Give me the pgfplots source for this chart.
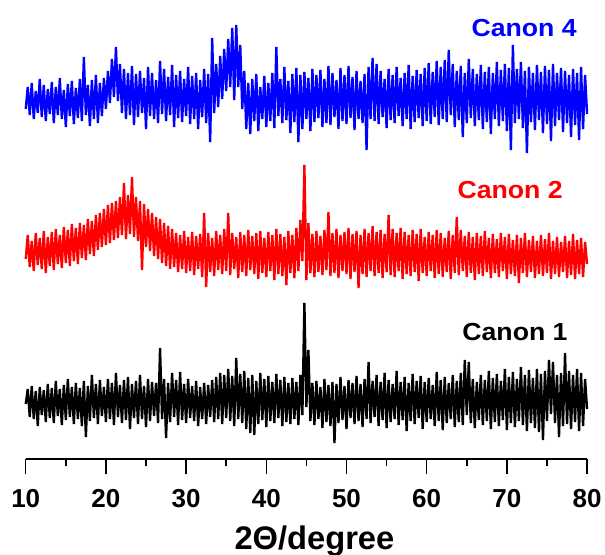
\documentclass[border=0pt]{standalone}
\usepackage{fontspec}
\setmainfont{Liberation Sans}
\usepackage{pgfplots}
\pgfplotsset{compat=1.18}
\begin{document}
\begin{tikzpicture}
\useasboundingbox (0,0) rectangle (453.75pt,416.25pt);
\begin{axis}[
  at={(19.3pt,72pt)}, anchor=south west,
  scale only axis, width=421pt, height=344.25pt,
  xmin=10, xmax=80, ymin=0, ymax=459,
  axis x line*=bottom, axis y line=none,
  clip=false,
  xtick={10,20,...,80}, minor x tick num=1,
  tick align=outside, xtick pos=bottom,
  major tick length=11.5pt, minor tick length=5.5pt,
  every tick/.style={black, line width=1.1pt},
  axis line style={black, line width=1.3pt},
  /pgf/number format/assume math mode=true,
  xticklabel style={font=\fontsize{19.5}{21}\selectfont\bfseries, yshift=-8pt},
  xlabel={2Θ/degree},
  xlabel style={font=\fontsize{24.5}{27}\selectfont\bfseries, yshift=-6.5pt, xshift=6pt},
  every axis plot/.append style={sharp plot, line width=1.75pt, line join=bevel},
]
% Canon 1 (black)
\addplot[black] coordinates {
(10.00,55)(10.25,70)(10.50,42)(10.75,73)(11.00,40)(11.25,68)(11.50,33)(11.75,72)(12.00,44)(12.25,69)(12.50,37)(12.75,75)
(13.00,41)(13.25,71)(13.50,36)(13.75,78)(14.00,43)(14.25,70)(14.50,34)(14.75,74)(15.00,39)(15.25,80)(15.50,42)(15.75,72)
(16.00,35)(16.25,76)(16.50,40)(16.75,71)(17.00,33)(17.25,78)(17.50,22)(17.75,73)(18.00,38)(18.25,84)(18.50,41)(18.75,75)
(19.00,35)(19.25,79)(19.50,43)(19.75,72)(20.00,37)(20.25,80)(20.50,40)(20.75,76)(21.00,34)(21.25,86)(21.50,42)(21.75,74)
(22.00,36)(22.25,79)(22.50,39)(22.75,82)(23.00,30)(23.25,75)(23.50,41)(23.75,78)(24.00,35)(24.25,84)(24.50,40)(24.75,73)
(25.00,32)(25.25,80)(25.50,38)(25.75,77)(26.00,43)(26.25,76)(26.50,36)(26.75,111)(27.00,40)(27.25,80)(27.50,21)(27.75,76)
(28.00,37)(28.25,86)(28.50,42)(28.75,79)(29.00,34)(29.25,87)(29.50,39)(29.75,75)(30.00,36)(30.25,80)(30.50,41)(30.75,73)
(31.00,38)(31.25,78)(31.50,33)(31.75,72)(32.00,40)(32.25,76)(32.50,35)(32.75,74)(33.00,42)(33.25,79)(33.50,37)(33.75,82)
(34.00,40)(34.25,86)(34.50,35)(34.75,84)(35.00,41)(35.25,90)(35.50,38)(35.75,83)(36.00,33)(36.25,101)(36.50,40)(36.75,85)
(37.00,36)(37.25,88)(37.50,30)(37.75,81)(38.00,26)(38.25,84)(38.50,24)(38.75,78)(39.00,35)(39.25,86)(39.50,39)(39.75,80)
(40.00,32)(40.25,83)(40.50,38)(40.75,77)(41.00,36)(41.25,85)(41.50,41)(41.75,79)(42.00,33)(42.25,82)(42.50,37)(42.75,76)
(43.00,35)(43.25,81)(43.50,40)(43.75,77)(44.00,34)(44.25,84)(44.50,44)(44.75,156)(45.00,52)(45.25,109)(45.50,38)(45.75,76)
(46.00,34)(46.25,78)(46.50,40)(46.75,72)(47.00,31)(47.25,80)(47.50,37)(47.75,74)(48.00,33)(48.25,77)(48.50,16)(48.75,75)
(49.00,36)(49.25,82)(49.50,39)(49.75,73)(50.00,30)(50.25,79)(50.50,41)(50.75,76)(51.00,35)(51.25,83)(51.50,38)(51.75,75)
(52.00,32)(52.25,80)(52.50,40)(52.75,97)(53.00,36)(53.25,78)(53.50,42)(53.75,84)(54.00,33)(54.25,77)(54.50,39)(54.75,86)
(55.00,31)(55.25,79)(55.50,37)(55.75,75)(56.00,40)(56.25,88)(56.50,34)(56.75,77)(57.00,39)(57.25,82)(57.50,28)(57.75,76)
(58.00,38)(58.25,85)(58.50,35)(58.75,78)(59.00,41)(59.25,83)(59.50,30)(59.75,77)(60.00,37)(60.25,81)(60.50,40)(60.75,74)
(61.00,33)(61.25,87)(61.50,38)(61.75,79)(62.00,29)(62.25,82)(62.50,36)(62.75,76)(63.00,40)(63.25,84)(63.50,32)(63.75,78)
(64.00,37)(64.25,86)(64.50,34)(64.75,99)(65.00,44)(65.25,97)(65.50,36)(65.75,80)(66.00,31)(66.25,77)(66.50,39)(66.75,84)
(67.00,34)(67.25,79)(67.50,38)(67.75,88)(68.00,30)(68.25,81)(68.50,37)(68.75,85)(69.00,33)(69.25,78)(69.50,39)(69.75,90)
(70.00,29)(70.25,82)(70.50,36)(70.75,87)(71.00,32)(71.25,80)(71.50,38)(71.75,92)(72.00,34)(72.25,84)(72.50,28)(72.75,89)
(73.00,36)(73.25,81)(73.50,31)(73.75,90)(74.00,27)(74.25,85)(74.50,19)(74.75,88)(75.00,38)(75.25,99)(75.50,45)(75.75,97)
(76.00,36)(76.25,84)(76.50,22)(76.75,86)(77.00,33)(77.25,106)(77.50,35)(77.75,88)(78.00,30)(78.25,84)(78.50,37)(78.75,90)
(79.00,28)(79.25,86)(79.50,33)(79.75,80)(80.00,50)
};
% Canon 2 (red)
\addplot[red] coordinates {
(10.00,200)(10.25,224)(10.50,192)(10.75,218)(11.00,188)(11.25,226)(11.50,194)(11.75,221)(12.00,190)(12.25,228)(12.50,186)(12.75,222)
(13.00,193)(13.25,227)(13.50,189)(13.75,230)(14.00,195)(14.25,224)(14.50,191)(14.75,232)(15.00,196)(15.25,229)(15.50,193)(15.75,235)
(16.00,198)(16.25,231)(16.50,195)(16.75,236)(17.00,201)(17.25,234)(17.50,199)(17.75,240)(18.00,205)(18.25,238)(18.50,203)(18.75,244)
(19.00,209)(19.25,246)(19.50,212)(19.75,250)(20.00,214)(20.25,254)(20.50,216)(20.75,256)(21.00,219)(21.25,258)(21.50,221)(21.75,262)
(22.00,224)(22.25,276)(22.50,220)(22.75,264)(23.00,225)(23.25,282)(23.50,222)(23.75,262)(24.00,218)(24.25,258)(24.50,189)(24.75,255)
(25.00,212)(25.25,250)(25.50,208)(25.75,246)(26.00,203)(26.25,242)(26.50,200)(26.75,240)(27.00,196)(27.25,236)(27.50,193)(27.75,233)
(28.00,190)(28.25,230)(28.50,192)(28.75,226)(29.00,187)(29.25,224)(29.50,190)(29.75,228)(30.00,186)(30.25,222)(30.50,188)(30.75,227)
(31.00,184)(31.25,223)(31.50,190)(31.75,225)(32.00,182)(32.25,246)(32.50,172)(32.75,226)(33.00,187)(33.25,221)(33.50,183)(33.75,228)
(34.00,189)(34.25,224)(34.50,185)(34.75,230)(35.00,188)(35.25,246)(35.50,184)(35.75,226)(36.00,190)(36.25,222)(36.50,181)(36.75,227)
(37.00,187)(37.25,224)(37.50,183)(37.75,229)(38.00,189)(38.25,223)(38.50,185)(38.75,226)(39.00,180)(39.25,228)(39.50,186)(39.75,221)
(40.00,182)(40.25,227)(40.50,188)(40.75,224)(41.00,179)(41.25,230)(41.50,185)(41.75,225)(42.00,183)(42.25,222)(42.50,174)(42.75,228)
(43.00,186)(43.25,224)(43.50,181)(43.75,231)(44.00,188)(44.25,239)(44.50,198)(44.75,294)(45.00,179)(45.25,236)(45.50,186)(45.75,225)
(46.00,182)(46.25,228)(46.50,187)(46.75,223)(47.00,184)(47.25,229)(47.50,189)(47.75,247)(48.00,183)(48.25,226)(48.50,186)(48.75,230)
(49.00,181)(49.25,224)(49.50,188)(49.75,227)(50.00,185)(50.25,231)(50.50,180)(50.75,225)(51.00,187)(51.25,228)(51.50,171)(51.75,224)
(52.00,185)(52.25,230)(52.50,182)(52.75,226)(53.00,188)(53.25,233)(53.50,183)(53.75,227)(54.00,186)(54.25,229)(54.50,181)(54.75,225)
(55.00,187)(55.25,244)(55.50,184)(55.75,230)(56.00,182)(56.25,226)(56.50,188)(56.75,231)(57.00,180)(57.25,227)(57.50,185)(57.75,224)
(58.00,183)(58.25,229)(58.50,187)(58.75,225)(59.00,178)(59.25,230)(59.50,186)(59.75,222)(60.00,183)(60.25,227)(60.50,188)(60.75,224)
(61.00,181)(61.25,229)(61.50,185)(61.75,226)(62.00,182)(62.25,221)(62.50,187)(62.75,228)(63.00,180)(63.25,224)(63.50,186)(63.75,242)
(64.00,184)(64.25,229)(64.50,188)(64.75,223)(65.00,182)(65.25,227)(65.50,186)(65.75,222)(66.00,179)(66.25,226)(66.50,185)(66.75,223)
(67.00,183)(67.25,228)(67.50,187)(67.75,221)(68.00,181)(68.25,225)(68.50,186)(68.75,220)(69.00,182)(69.25,226)(69.50,188)(69.75,222)
(70.00,180)(70.25,225)(70.50,185)(70.75,219)(71.00,183)(71.25,224)(71.50,176)(71.75,221)(72.00,186)(72.25,226)(72.50,182)(72.75,219)
(73.00,187)(73.25,223)(73.50,181)(73.75,218)(74.00,185)(74.25,224)(74.50,183)(74.75,220)(75.00,186)(75.25,226)(75.50,180)(75.75,218)
(76.00,185)(76.25,222)(76.50,182)(76.75,217)(77.00,187)(77.25,223)(77.50,181)(77.75,218)(78.00,184)(78.25,225)(78.50,180)(78.75,219)
(79.00,185)(79.25,221)(79.50,182)(79.75,217)(80.00,195)
};
% Canon 4 (blue)
\addplot[blue] coordinates {
(10.00,350)(10.25,372)(10.50,344)(10.75,376)(11.00,340)(11.25,368)(11.50,346)(11.75,380)(12.00,342)(12.25,374)(12.50,338)(12.75,370)
(13.00,345)(13.25,377)(13.50,336)(13.75,372)(14.00,344)(14.25,381)(14.50,340)(14.75,369)(15.00,332)(15.25,375)(15.50,343)(15.75,378)
(16.00,335)(16.25,371)(16.50,341)(16.75,380)(17.00,338)(17.25,402)(17.50,344)(17.75,374)(18.00,333)(18.25,379)(18.50,340)(18.75,384)
(19.00,336)(19.25,376)(19.50,343)(19.75,381)(20.00,350)(20.25,388)(20.50,356)(20.75,400)(21.00,362)(21.25,412)(21.50,358)(21.75,395)
(22.00,346)(22.25,390)(22.50,340)(22.75,386)(23.00,344)(23.25,393)(23.50,334)(23.75,385)(24.00,342)(24.25,388)(24.50,346)(24.75,381)
(25.00,330)(25.25,392)(25.50,343)(25.75,386)(26.00,340)(26.25,379)(26.50,336)(26.75,398)(27.00,345)(27.25,390)(27.50,338)(27.75,382)
(28.00,344)(28.25,394)(28.50,332)(28.75,384)(29.00,341)(29.25,388)(29.50,337)(29.75,380)(30.00,343)(30.25,392)(30.50,335)(30.75,383)
(31.00,340)(31.25,386)(31.50,330)(31.75,379)(32.00,342)(32.25,390)(32.50,336)(32.75,385)(33.00,317)(33.25,421)(33.50,346)(33.75,395)
(34.00,352)(34.25,403)(34.50,360)(34.75,410)(35.00,368)(35.25,420)(35.50,372)(35.75,431)(36.00,359)(36.25,434)(36.50,372)(36.75,414)
(37.00,350)(37.25,388)(37.50,330)(37.75,376)(38.00,325)(38.25,380)(38.50,338)(38.75,385)(39.00,328)(39.25,372)(39.50,340)(39.75,383)
(40.00,332)(40.25,376)(40.50,338)(40.75,386)(41.00,331)(41.25,412)(41.50,343)(41.75,380)(42.00,336)(42.25,392)(42.50,339)(42.75,378)
(43.00,326)(43.25,385)(43.50,337)(43.75,391)(44.00,317)(44.25,384)(44.50,330)(44.75,387)(45.00,340)(45.25,381)(45.50,328)(45.75,390)
(46.00,337)(46.25,384)(46.50,341)(46.75,389)(47.00,332)(47.25,380)(47.50,336)(47.75,393)(48.00,334)(48.25,386)(48.50,342)(48.75,379)
(49.00,330)(49.25,391)(49.50,338)(49.75,384)(50.00,335)(50.25,393)(50.50,341)(50.75,382)(51.00,329)(51.25,388)(51.50,340)(51.75,378)
(52.00,336)(52.25,385)(52.50,309)(52.75,392)(53.00,340)(53.25,401)(53.50,338)(53.75,395)(54.00,335)(54.25,388)(54.50,342)(54.75,380)
(55.00,331)(55.25,390)(55.50,339)(55.75,384)(56.00,336)(56.25,392)(56.50,343)(56.75,381)(57.00,333)(57.25,386)(57.50,340)(57.75,394)
(58.00,330)(58.25,383)(58.50,337)(58.75,389)(59.00,341)(59.25,385)(59.50,333)(59.75,391)(60.00,338)(60.25,396)(60.50,335)(60.75,387)
(61.00,342)(61.25,398)(61.50,334)(61.75,392)(62.00,340)(62.25,399)(62.50,337)(62.75,409)(63.00,344)(63.25,395)(63.50,332)(63.75,388)
(64.00,339)(64.25,393)(64.50,322)(64.75,386)(65.00,336)(65.25,400)(65.50,341)(65.75,390)(66.00,333)(66.25,385)(66.50,339)(66.75,394)
(67.00,330)(67.25,387)(67.50,337)(67.75,392)(68.00,325)(68.25,386)(68.50,340)(68.75,397)(69.00,333)(69.25,389)(69.50,338)(69.75,395)
(70.00,328)(70.25,391)(70.50,309)(70.75,414)(71.00,336)(71.25,390)(71.50,340)(71.75,397)(72.00,331)(72.25,388)(72.50,306)(72.75,392)
(73.00,337)(73.25,386)(73.50,329)(73.75,394)(74.00,339)(74.25,387)(74.50,326)(74.75,393)(75.00,335)(75.25,389)(75.50,318)(75.75,395)
(76.00,333)(76.25,386)(76.50,339)(76.75,391)(77.00,327)(77.25,388)(77.50,336)(77.75,384)(78.00,322)(78.25,390)(78.50,334)(78.75,386)
(79.00,319)(79.25,392)(79.50,330)(79.75,384)(80.00,345)
};
\node[anchor=east, text=blue, font=\fontsize{18.5}{20}\selectfont\bfseries, xscale=1.08, inner sep=0pt] at (axis cs:78.74,431) {Canon 4};
\node[anchor=east, text=red, font=\fontsize{18.5}{20}\selectfont\bfseries, xscale=1.08, inner sep=0pt] at (axis cs:77.0,269) {Canon 2};
\node[anchor=east, text=black, font=\fontsize{18.5}{20}\selectfont\bfseries, xscale=1.08, inner sep=0pt] at (axis cs:77.6,127) {Canon 1};
\end{axis}
\end{tikzpicture}
\end{document}
